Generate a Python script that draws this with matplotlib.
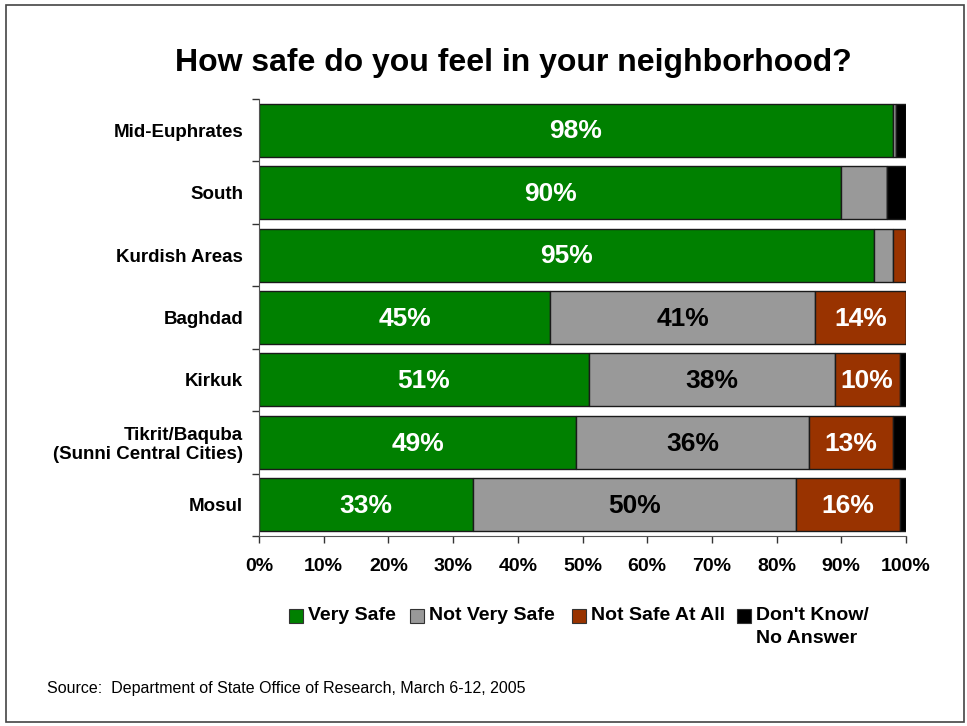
import matplotlib
matplotlib.use('Agg')
import matplotlib.pyplot as plt
from matplotlib.patches import Rectangle

plt.rcParams['font.family'] = ['Liberation Sans', 'DejaVu Sans']

regions = ['Mid-Euphrates', 'South', 'Kurdish Areas', 'Baghdad', 'Kirkuk',
           'Tikrit/Baquba\n(Sunni Central Cities)', 'Mosul']
very_safe = [98, 90, 95, 45, 51, 49, 33]
not_very_safe = [0.5, 7, 3, 41, 38, 36, 50]
not_safe_at_all = [0, 0, 2, 14, 10, 13, 16]
dont_know = [1.5, 3, 0, 0, 1, 2, 1]

series_names = ['Very Safe', 'Not Very Safe', 'Not Safe At All', "Don't Know/\nNo Answer"]
series_colors = ['#008000', '#999999', '#993300', '#000000']
label_colors = ['white', 'black', 'white', 'white']

W, H = 967, 726
fig = plt.figure(figsize=(W / 100, H / 100), dpi=100)
ax = fig.add_axes([259 / W, 1 - 536 / H, 647 / W, 437 / H])

series = [very_safe, not_very_safe, not_safe_at_all, dont_know]
ypos = list(range(len(regions)))
left = [0] * len(regions)
for vals, color, tcolor in zip(series, series_colors, label_colors):
    ax.barh(ypos, vals, left=left, height=0.85, color=color,
            edgecolor='#1a1a1a', linewidth=1.0)
    for y, v, l in zip(ypos, vals, left):
        if v >= 10:
            ax.text(l + v / 2, y + 0.02, f'{v:.0f}%', ha='center', va='center',
                    color=tcolor, fontsize=19, fontweight='bold')
    left = [a + b for a, b in zip(left, vals)]

ax.set_xlim(0, 100)
ax.set_ylim(len(regions) - 0.5, -0.5)
ax.set_xticks(range(0, 101, 10))
ax.set_xticklabels([f'{t}%' for t in range(0, 101, 10)], fontsize=14, fontweight='bold')
ax.set_yticks(ypos)
ax.set_yticklabels(regions, fontsize=13.5, fontweight='bold', linespacing=1.1)
ax.set_yticks([y - 0.5 for y in range(len(regions) + 1)], minor=True)
ax.tick_params(axis='y', which='major', length=0, pad=11.5)
ax.tick_params(axis='y', which='minor', length=5, width=1, color='#333333')
ax.tick_params(axis='x', length=5, width=1, color='#333333', pad=11)
for side in ['top', 'right']:
    ax.spines[side].set_visible(False)
for side in ['left', 'bottom']:
    ax.spines[side].set_color('#555555')

fig.text(513 / W, 1 - 63 / H, 'How safe do you feel in your neighborhood?',
         ha='center', va='center', fontsize=23, fontweight='bold')

# legend
leg_x = [289, 410, 572, 737]
for x, name, color in zip(leg_x, series_names, series_colors):
    fig.patches.append(Rectangle((x / W, 1 - 623 / H), 14 / W, 14 / H,
                                 transform=fig.transFigure, facecolor=color,
                                 edgecolor='#333333', linewidth=0.8))
    if '\n' in name:
        fig.text((x + 19) / W, 1 - 607 / H, name, ha='left', va='top',
                 fontsize=14, fontweight='bold', linespacing=1.45)
    else:
        fig.text((x + 19) / W, 1 - 616 / H, name, ha='left', va='center',
                 fontsize=14, fontweight='bold')

fig.text(47 / W, 1 - 688 / H, 'Source:  Department of State Office of Research, March 6-12, 2005',
         ha='left', va='center', fontsize=11.5)

fig.patches.append(Rectangle((6 / W, 4 / H), 958 / W, 717 / H, transform=fig.transFigure,
                             fill=False, edgecolor='#444444', linewidth=1.2))

fig.savefig('out.png', dpi=100)
